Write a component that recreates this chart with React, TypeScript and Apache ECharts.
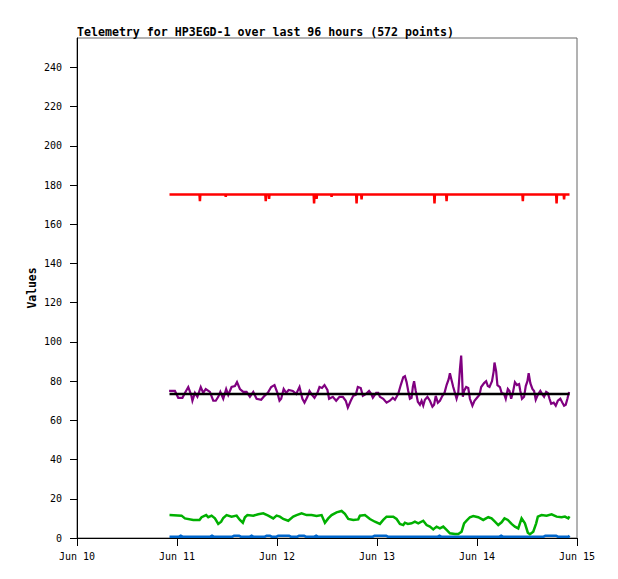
import React, { useEffect, useRef } from "react";
import * as echarts from "echarts";

// x values are hours since Jun 10 00:00
const dayLabels = ["Jun 10", "Jun 11", "Jun 12", "Jun 13", "Jun 14", "Jun 15"];
const yTicks = [0, 20, 40, 60, 80, 100, 120, 140, 160, 180, 200, 220, 240];

const redSeries: [number, number][] = [
  [22.2, 175.2], [29.4, 175.2], [29.5, 171.8], [29.6, 175.2],
  [35.6, 175.2], [35.7, 174], [35.8, 175.2],
  [45.2, 175.2], [45.3, 171.8], [45.4, 175.2], [46.0, 175.2], [46.1, 173], [46.2, 175.2],
  [56.8, 175.2], [56.9, 170.6], [57.0, 175.2], [57.4, 175.2], [57.5, 173], [57.6, 175.2],
  [61.0, 175.2], [61.1, 174], [61.2, 175.2],
  [67.0, 175.2], [67.1, 170.6], [67.2, 175.2], [68.2, 175.2], [68.3, 172.7], [68.4, 175.2],
  [85.7, 175.2], [85.8, 170.6], [85.9, 175.2],
  [88.6, 175.2], [88.7, 171.8], [88.8, 175.2],
  [106.9, 175.2], [107.0, 171.8], [107.1, 175.2],
  [115.0, 175.2], [115.1, 170.6], [115.2, 175.2],
  [116.8, 175.2], [116.9, 172.7], [117.0, 175.2],
  [118.2, 175.2],
];

const blackSeries: [number, number][] = [
  [22.2, 73.5],
  [118.2, 73.5],
];

const purpleSeries: [number, number][] = [
  [22.1, 75], [23.5, 75], [24.3, 71.5], [25.3, 71.5], [25.9, 74], [26.7, 77], [27.4, 73], [27.7, 70],
  [28.3, 74], [28.9, 72], [29.7, 77], [30.3, 74], [30.9, 76], [31.9, 74.5], [32.7, 70], [33.3, 70],
  [33.9, 72], [34.4, 74.5], [35.1, 71], [35.8, 76], [36.3, 73], [37.1, 77], [37.9, 77.5], [38.4, 79.5],
  [39.1, 76], [39.9, 74.5], [40.7, 74.5], [41.5, 72], [42.3, 74.5], [43.1, 71], [44.2, 70.5], [45.0, 72.5],
  [45.8, 74], [46.6, 77], [47.4, 78], [48.1, 74], [48.6, 70], [49.0, 71], [49.6, 76], [50.2, 74],
  [50.8, 75.5], [51.8, 75], [52.6, 73.5], [53.4, 77], [54.1, 71], [54.6, 69], [55.3, 72], [55.8, 75],
  [56.4, 73], [57.0, 71.5], [57.7, 74], [58.2, 77], [58.8, 76.5], [59.4, 78], [60.1, 75.5], [60.5, 71],
  [61.4, 72], [62.2, 70], [63.0, 72], [63.8, 72], [64.5, 70], [65.0, 66.5], [65.7, 70], [66.3, 72.5],
  [66.9, 73], [67.4, 77], [68.1, 76.5], [68.6, 72.5], [69.4, 73.5], [70.1, 75], [70.6, 73.5], [71.0, 71.5],
  [71.8, 74], [72.3, 74], [72.7, 72], [73.5, 71], [74.3, 69], [75.1, 70], [75.8, 71.5], [76.3, 70.5],
  [77.1, 73.5], [77.7, 78], [78.3, 82], [78.7, 82.5], [79.1, 79.5], [79.5, 75], [79.9, 71], [80.3, 71.5],
  [80.6, 77], [80.9, 80], [81.3, 75], [81.8, 69.5], [82.3, 68], [82.7, 70], [83.1, 67.5], [83.5, 70.5],
  [84.1, 72], [84.7, 70], [85.3, 67], [85.7, 68], [86.1, 72.5], [86.6, 69], [87.1, 70], [87.7, 72.5],
  [88.2, 74], [88.7, 78], [89.2, 81], [89.5, 84], [89.9, 80.5], [90.3, 77], [90.7, 74], [91.1, 71],
  [91.5, 74], [91.9, 86], [92.2, 93], [92.4, 84], [92.6, 72], [92.9, 75], [93.4, 77], [93.9, 76.5],
  [94.3, 71], [94.9, 67.5], [95.4, 70], [96.2, 72], [96.6, 73], [97.0, 77], [97.7, 79], [98.2, 80],
  [98.6, 77.5], [99.0, 77], [99.6, 80], [100.0, 85], [100.2, 89.5], [100.6, 85], [100.9, 78], [101.5, 77],
  [101.9, 74], [102.5, 73.5], [102.9, 71], [103.4, 76], [103.8, 75], [104.2, 71], [104.6, 74], [105.1, 79.5],
  [105.6, 78], [106.1, 78.5], [106.4, 75], [106.8, 71], [107.3, 72], [107.7, 77.5], [108.1, 80], [108.4, 84],
  [108.8, 79], [109.3, 76], [109.7, 75], [110.1, 70.5], [110.6, 73], [111.2, 75], [111.6, 73.5], [112.1, 72],
  [112.6, 74.5], [113.0, 74], [113.4, 71], [113.8, 68.5], [114.4, 69], [114.9, 67.5], [115.4, 70], [116.0, 71],
  [116.5, 69], [116.9, 67.5], [117.3, 68], [117.7, 71], [118.1, 74.5],
];

const greenSeries: [number, number][] = [
  [22.2, 11.7], [25.1, 11.4], [25.9, 10.0], [27.9, 9.2], [29.4, 9.2], [29.9, 10.6], [31.0, 11.7], [31.5, 10.6],
  [32.3, 11.4], [33.1, 10.0], [33.9, 7.2], [34.6, 8.3], [35.1, 10.2], [35.9, 11.7], [37.1, 10.9], [38.3, 11.4],
  [39.1, 9.2], [39.8, 7.8], [40.3, 10.6], [40.9, 11.7], [42.3, 11.4], [43.5, 12.1], [44.7, 12.6], [45.9, 11.4],
  [47.1, 10.0], [47.9, 11.4], [48.7, 10.9], [49.5, 9.7], [50.7, 8.8], [51.9, 10.9], [52.7, 11.7], [53.9, 12.6],
  [55.1, 11.7], [56.3, 11.7], [57.5, 11.2], [58.7, 11.7], [59.5, 7.8], [60.3, 10.0], [61.1, 11.7], [62.3, 13.1],
  [63.5, 13.8], [64.3, 12.3], [65.1, 9.7], [66.3, 9.2], [67.5, 9.5], [67.9, 11.4], [69.1, 11.7], [70.3, 9.7],
  [71.5, 8.3], [72.7, 7.2], [73.5, 9.2], [74.3, 10.9], [75.9, 10.9], [76.7, 9.7], [77.5, 7.2], [78.3, 6.6],
  [78.7, 7.8], [79.4, 7.2], [80.3, 7.5], [81.1, 8.3], [81.9, 7.5], [83.1, 8.8], [83.9, 6.6], [84.7, 5.8],
  [85.5, 4.4], [86.3, 5.8], [87.1, 4.9], [87.9, 5.8], [88.7, 4.1], [89.5, 2.4], [90.7, 2.0], [91.5, 2.0],
  [92.3, 3.2], [92.9, 7.5], [93.5, 8.8], [94.3, 10.6], [95.1, 11.2], [96.3, 10.6], [97.5, 9.2], [98.7, 10.6],
  [99.5, 10.0], [100.3, 8.3], [101.1, 6.6], [101.9, 8.0], [102.6, 10.0], [103.4, 9.2], [104.3, 7.2], [105.1, 5.8],
  [105.9, 4.9], [106.3, 7.5], [106.7, 10.0], [107.5, 7.5], [108.2, 2.7], [108.7, 1.9], [109.5, 3.2], [110.2, 7.5],
  [110.6, 10.9], [111.5, 11.7], [112.7, 11.4], [113.9, 12.1], [115.1, 10.9], [116.3, 10.6], [117.1, 10.9], [117.9, 10.0],
  [118.2, 11.0],
];

const blueSeries: [number, number][] = [
  [22.2, 0.7], [24.5, 0.7], [24.9, 1.2], [25.3, 0.7], [32.0, 0.7], [32.4, 1.2], [32.8, 0.7],
  [37.3, 0.7], [37.7, 1.2], [38.9, 1.2], [39.3, 0.7], [41.5, 0.7], [41.9, 1.2], [42.3, 0.7],
  [45.1, 0.7], [45.5, 1.2], [46.3, 1.2], [46.7, 0.7], [47.9, 0.7], [48.3, 1.2], [50.9, 1.2], [51.3, 0.7],
  [52.9, 0.7], [53.3, 1.2], [54.5, 1.2], [54.9, 0.7], [57.0, 0.7], [57.4, 1.2], [57.8, 0.7],
  [71.0, 0.7], [71.4, 1.2], [74.2, 1.2], [74.6, 0.7], [86.6, 0.7], [87.0, 1.2], [87.4, 0.7],
  [101.4, 0.7], [101.8, 1.2], [102.2, 0.7], [112.0, 0.7], [112.4, 1.2], [115.0, 1.2], [115.4, 0.7],
  [118.0, 0.7], [118.2, 1.2],
];

const MONO = "'DejaVu Sans Mono', 'Liberation Mono', monospace";

export default function App() {
  const ref = useRef<HTMLDivElement>(null);
  useEffect(() => {
    if (!ref.current) return;
    const chart = echarts.init(ref.current, undefined, { renderer: "svg" });
    const line = (data: [number, number][], color: string, width = 2) => ({
      type: "line",
      data,
      showSymbol: false,
      symbol: "none",
      lineStyle: { color, width, join: "miter" },
      itemStyle: { color },
      silent: true,
    });
    chart.setOption({
      animation: false,
      backgroundColor: "#ffffff",
      title: {
        text: "Telemetry for HP3EGD-1 over last 96 hours (572 points)",
        left: 77,
        top: 26,
        padding: 0,
        textStyle: { fontFamily: MONO, fontWeight: "bold", fontSize: 11.6, color: "#000" },
      },
      graphic: [
        {
          type: "text",
          x: 32,
          y: 288,
          rotation: Math.PI / 2,
          style: {
            text: "Values",
            fontFamily: MONO,
            fontWeight: "bold",
            fontSize: 11.4,
            fill: "#000",
            align: "center",
            verticalAlign: "middle",
          },
        },
      ],
      grid: {
        left: 77,
        top: 38,
        width: 500,
        height: 500,
        show: true,
        borderColor: "#666",
        borderWidth: 1,
        backgroundColor: "transparent",
      },
      xAxis: {
        type: "value",
        min: 0,
        max: 120,
        interval: 24,
        axisLine: { show: true, lineStyle: { color: "#000", width: 1 } },
        axisTick: { show: true, length: 8, lineStyle: { color: "#000" } },
        splitLine: { show: false },
        axisLabel: {
          margin: 13,
          fontFamily: MONO,
          fontSize: 10,
          color: "#000",
          formatter: (v: number) => dayLabels[Math.round(v / 24)],
        },
      },
      yAxis: {
        type: "value",
        min: 0,
        max: 255,
        axisLine: { show: true, lineStyle: { color: "#000", width: 1 } },
        axisTick: { show: true, length: 7, customValues: yTicks, lineStyle: { color: "#000" } },
        splitLine: { show: false },
        axisLabel: {
          margin: 15,
          customValues: yTicks,
          fontFamily: MONO,
          fontSize: 10,
          color: "#000",
        },
      },
      series: [
        line(blueSeries, "#0066cc", 2.5),
        line(greenSeries, "#00b000", 2.5),
        line(purpleSeries, "#800080", 2.2),
        line(blackSeries, "#000000", 2.5),
        line(redSeries, "#ff0000", 2.5),
      ],
    });
    return () => chart.dispose();
  }, []);
  return (
    <div
      ref={ref}
      style={{ position: "fixed", left: 0, top: 0, width: 618, height: 579, background: "#fff" }}
    />
  );
}
